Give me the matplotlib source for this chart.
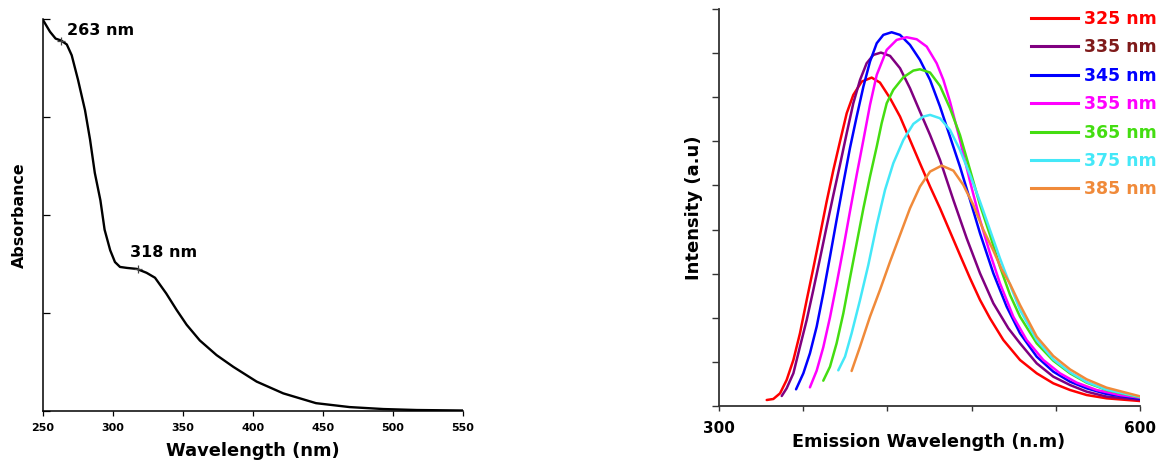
import matplotlib
matplotlib.use("Agg")
import matplotlib.pyplot as plt
from matplotlib.lines import Line2D

plt.rcParams['font.family'] = ['DejaVu Sans']
plt.rcParams['font.weight'] = 'bold'

# ---------------- Left panel: absorbance ----------------
abs_wl = [250, 255, 259, 263, 267, 270.5, 275, 280, 283.6, 287, 291, 294, 298,
          301.4, 305, 310, 317, 324, 330, 338, 345.5, 352.6, 362, 374, 386,
          402.6, 421.6, 445, 469, 493, 517, 550]
abs_val = [3.99, 3.87, 3.80, 3.78, 3.74, 3.63, 3.38, 3.07, 2.77, 2.43, 2.15, 1.85,
           1.64, 1.52, 1.47, 1.46, 1.45, 1.41, 1.36, 1.20, 1.03, 0.88, 0.72,
           0.57, 0.45, 0.30, 0.18, 0.08, 0.04, 0.02, 0.01, 0.005]
peak_wl = [263, 318]
peak_val = [3.78, 1.45]
peak_labels = ["263 nm", "318 nm"]
peak_text_pos = [(267, 3.84), (312, 1.57)]
abs_xticks = [250, 300, 350, 400, 450, 500, 550]

# ---------------- Right panel: emission ----------------
exc_labels = ["325 nm", "335 nm", "345 nm", "355 nm", "365 nm", "375 nm", "385 nm"]
line_colors = ["#FF0000", "#800080", "#0000FF", "#FF00FF", "#44DD11", "#44E8F8", "#F08A3A"]
text_colors = ["#FF0000", "#7F1A1A", "#0000FF", "#FF00FF", "#44DD11", "#44E8F8", "#F08A3A"]

em325_wl = [334.0, 338.7, 343.5, 348.2, 353.0, 357.7, 362.5, 367.2, 372.0, 376.7, 381.5,
            386.2, 391.0, 395.7, 401.7, 408.8, 414.7, 421.9, 429.0, 436.1, 443.2, 450.4,
            457.5, 464.6, 471.7, 478.9, 486.0, 493.1, 502.6, 514.5, 526.4, 538.2, 550.1,
            562.0, 576.2, 600.0]
em325_i = [0.136, 0.159, 0.287, 0.590, 1.043, 1.648, 2.404, 3.122, 3.878, 4.633, 5.351,
           5.994, 6.636, 7.052, 7.354, 7.445, 7.332, 6.977, 6.561, 6.032, 5.503, 4.974,
           4.482, 3.953, 3.424, 2.895, 2.404, 1.988, 1.497, 1.043, 0.741, 0.514, 0.363,
           0.249, 0.174, 0.113]

em335_wl = [344.7, 348.2, 353.0, 357.7, 362.5, 367.2, 372.0, 376.7, 381.5, 386.2, 391.0,
            395.7, 400.5, 405.2, 410.0, 415.4, 421.9, 429.0, 436.1, 443.2, 450.4, 457.5,
            467.0, 476.5, 486.0, 495.5, 506.2, 514.5, 526.4, 538.2, 550.1, 562.0, 576.2,
            600.0]
em335_i = [0.227, 0.401, 0.741, 1.345, 1.950, 2.630, 3.348, 4.067, 4.785, 5.465, 6.183,
           6.863, 7.392, 7.770, 7.959, 8.012, 7.937, 7.657, 7.203, 6.674, 6.145, 5.578,
           4.671, 3.802, 3.008, 2.328, 1.761, 1.421, 0.967, 0.665, 0.476, 0.325, 0.212,
           0.144]

em345_wl = [354.9, 360.1, 364.8, 369.6, 374.3, 379.1, 383.8, 388.6, 393.3, 398.1, 402.9,
            407.6, 412.4, 417.1, 423.0, 429.0, 436.1, 443.2, 450.4, 457.5, 464.6, 471.7,
            478.9, 486.0, 495.5, 505.0, 514.5, 526.4, 538.2, 550.1, 562.0, 576.2, 600.0]
em345_i = [0.378, 0.741, 1.194, 1.799, 2.555, 3.386, 4.218, 5.049, 5.843, 6.561, 7.241,
           7.808, 8.224, 8.413, 8.473, 8.413, 8.186, 7.846, 7.392, 6.788, 6.107, 5.427,
           4.671, 3.915, 3.008, 2.252, 1.648, 1.119, 0.779, 0.552, 0.401, 0.272, 0.166]

em355_wl = [364.8, 369.6, 374.3, 379.1, 383.8, 388.6, 393.3, 398.1, 402.9, 407.6, 412.4,
            419.5, 426.6, 433.7, 440.9, 448.0, 455.1, 459.9, 464.6, 471.7, 478.9, 486.0,
            493.1, 500.2, 509.7, 519.2, 531.1, 543.0, 554.9, 569.1, 585.7, 600.0]
em355_i = [0.423, 0.801, 1.330, 2.011, 2.766, 3.575, 4.407, 5.238, 6.032, 6.825, 7.506,
           8.073, 8.299, 8.360, 8.314, 8.148, 7.770, 7.392, 6.901, 6.032, 5.087, 4.218,
           3.462, 2.782, 2.026, 1.497, 1.043, 0.741, 0.529, 0.363, 0.249, 0.189]

em365_wl = [374.3, 379.1, 383.8, 388.6, 393.3, 398.1, 402.9, 407.6, 412.4, 415.9, 419.5,
            424.2, 431.4, 438.5, 443.2, 450.4, 457.5, 464.6, 471.7, 478.9, 486.0, 493.1,
            500.2, 507.4, 514.5, 526.4, 538.2, 550.1, 562.0, 576.2, 600.0]
em365_i = [0.574, 0.892, 1.421, 2.101, 2.895, 3.689, 4.482, 5.200, 5.881, 6.410, 6.863,
           7.166, 7.453, 7.604, 7.634, 7.559, 7.256, 6.750, 6.145, 5.351, 4.558, 3.878,
           3.159, 2.517, 2.026, 1.421, 1.028, 0.741, 0.529, 0.363, 0.197]

em375_wl = [385.0, 389.8, 394.5, 400.5, 406.4, 412.4, 418.3, 424.2, 431.4, 438.5, 445.6,
            450.4, 457.5, 464.6, 471.7, 478.9, 486.0, 493.1, 500.2, 507.4, 514.5, 526.4,
            538.2, 550.1, 562.0, 576.2, 600.0]
em375_i = [0.809, 1.119, 1.648, 2.404, 3.197, 4.104, 4.898, 5.503, 6.032, 6.395, 6.561,
           6.599, 6.523, 6.259, 5.805, 5.238, 4.633, 3.991, 3.348, 2.744, 2.177, 1.497,
           1.058, 0.763, 0.544, 0.370, 0.204]

em385_wl = [394.5, 400.5, 407.6, 414.7, 421.9, 429.0, 436.1, 443.2, 450.4, 458.7, 467.0,
            474.1, 481.2, 488.4, 495.5, 501.4, 507.4, 514.5, 526.4, 538.2, 550.1, 562.0,
            576.2, 600.0]
em385_i = [0.794, 1.345, 2.026, 2.630, 3.273, 3.878, 4.482, 4.974, 5.314, 5.450, 5.336,
           5.011, 4.558, 3.991, 3.522, 3.099, 2.766, 2.290, 1.572, 1.134, 0.831, 0.605,
           0.416, 0.219]

em_wl = [em325_wl, em335_wl, em345_wl, em355_wl, em365_wl, em375_wl, em385_wl]
em_i = [em325_i, em335_i, em345_i, em355_i, em365_i, em375_i, em385_i]
em_xticks = [300, 360, 420, 480, 540, 600]
em_xticklabels = ["300", "", "", "", "", "600"]

W, H = 1158, 469
fig = plt.figure(figsize=(W / 100, H / 100), dpi=100)

def fx(px):
    return px / W

def fy(py):
    return 1 - py / H

# Left axes
axL = fig.add_axes([fx(43), fy(411), fx(463) - fx(43), fy(19) - fy(411)])
axL.plot(abs_wl, abs_val, color="black", lw=1.7, solid_joinstyle="round")
axL.plot(peak_wl, peak_val, ls="none", marker="+", ms=6, mew=0.9, color="#444444")
for lab, (tx, ty) in zip(peak_labels, peak_text_pos):
    axL.text(tx, ty, lab, fontsize=11.5, fontweight="bold", ha="left", va="baseline")
axL.set_xlim(250, 550)
axL.set_ylim(0, 4)
axL.set_xticks(abs_xticks)
axL.set_xticklabels([str(v) for v in abs_xticks], fontsize=8, fontweight="bold")
axL.set_yticks([0, 1, 2, 3, 4])
axL.set_yticklabels([])
axL.tick_params(axis="y", direction="in", length=5, width=0.9)
axL.tick_params(axis="x", direction="out", length=3.6, width=0.9, pad=5)
for s in ["top", "right"]:
    axL.spines[s].set_visible(False)
for s in ["left", "bottom"]:
    axL.spines[s].set_linewidth(1.1)
fig.text(fx(253), fy(451), "Wavelength (nm)", fontsize=12.9, fontweight="bold",
         ha="center", va="center")
fig.text(fx(19), fy(215), "Absorbance", fontsize=11.4, fontweight="bold",
         ha="center", va="center", rotation=90)

# Right axes
axR = fig.add_axes([fx(719), fy(406), fx(1140) - fx(719), fy(9) - fy(406)])
for wl, iv, c in zip(em_wl, em_i, line_colors):
    axR.plot(wl, iv, color=c, lw=1.8, solid_capstyle="round", solid_joinstyle="round")
axR.set_xlim(300, 600)
axR.set_ylim(0, 9)
axR.set_xticks(em_xticks)
axR.set_xticklabels(em_xticklabels, fontsize=11, fontweight="bold")
axR.set_yticks(range(10))
axR.set_yticklabels([])
axR.tick_params(axis="y", direction="out", length=4.8, width=1.0, color="#333333")
axR.tick_params(axis="x", direction="out", length=3.5, width=1.0, pad=7, color="#333333")
for s in ["top", "right"]:
    axR.spines[s].set_visible(False)
for s in ["left", "bottom"]:
    axR.spines[s].set_linewidth(1.3)
    axR.spines[s].set_color("#333333")
fig.text(fx(929), fy(442), "Emission Wavelength (n.m)", fontsize=12.7, fontweight="bold",
         ha="center", va="center")
fig.text(fx(694), fy(208), "Intensity (a.u)", fontsize=13, fontweight="bold",
         ha="center", va="center", rotation=90)

handles = [Line2D([0], [0], color=c, lw=2.2) for c in line_colors]
axR.legend(handles, exc_labels, loc="upper left",
           bbox_to_anchor=(fx(1031), fy(10)), bbox_transform=fig.transFigure,
           frameon=False, borderpad=0, borderaxespad=0, handlelength=2.7,
           handletextpad=0.35, labelspacing=0.6, labelcolor=text_colors,
           prop={"weight": "bold", "size": 12.5})

fig.savefig("out.png", dpi=100)
